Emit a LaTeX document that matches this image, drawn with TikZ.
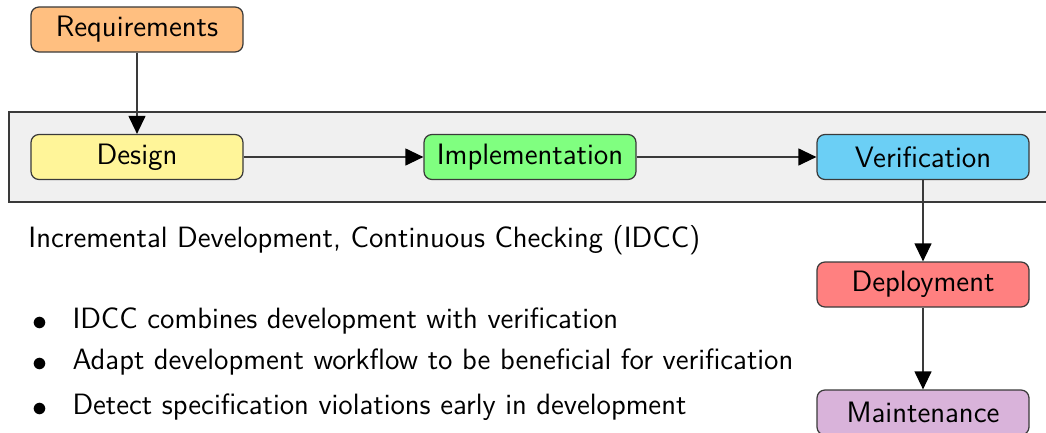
\documentclass[tikz,border=0pt]{standalone}
\usetikzlibrary{arrows.meta}
\renewcommand{\familydefault}{\sfdefault}
\definecolor{cReq}{HTML}{FFBF80}
\definecolor{cDes}{HTML}{FFF599}
\definecolor{cImp}{HTML}{80FF80}
\definecolor{cVer}{HTML}{6BCFF5}
\definecolor{cDep}{HTML}{FF8080}
\definecolor{cMai}{HTML}{D9B3DA}
\definecolor{cBg}{HTML}{F0F0F0}
\definecolor{cLine}{HTML}{3A3A3A}
\tikzset{
  phase/.style={draw=cLine, line width=0.5pt, rounded corners=3.2pt, minimum width=84.8pt, minimum height=18pt, inner sep=0pt, font=\fontsize{11.8}{14}\selectfont},
  flow/.style={draw=cLine, line width=0.5pt, -{Triangle[width=6.8pt,length=7.2pt,fill=black,color=black]}},
  txt/.style={anchor=west, inner sep=0pt, font=\fontsize{11.75}{14}\selectfont},
  bul/.style={inner sep=0pt, font=\fontsize{13}{14}\selectfont}
}
\begin{document}
\begin{tikzpicture}[x=0.4pt,y=-0.4pt]
\useasboundingbox (0,0) rectangle (1046,433);
\fill[cBg] (9,112) rectangle (1050,202);
\draw[cLine, line width=0.5pt] (1050,112) -- (9,112) -- (9,202) -- (1050,202);
\node[phase, fill=cReq] (req) at (137,29.5) {Requirements};
\node[phase, fill=cDes] (des) at (137,157) {Design};
\node[phase, fill=cImp] (imp) at (530,157) {Implementation};
\node[phase, fill=cVer] (ver) at (923,157) {Verification};
\node[phase, fill=cDep] (dep) at (923,284.5) {Deployment};
\node[phase, fill=cMai] (mai) at (923,412.5) {Maintenance};
\draw[flow] (req) -- (des);
\draw[flow] (des) -- (imp);
\draw[flow] (imp) -- (ver);
\draw[flow] (ver) -- (dep);
\draw[flow] (dep) -- (mai);
\node[txt] (title) at (28,240) {Incremental Development, Continuous Checking (IDCC)};
\node[bul] (d1) at (40,324) {$\bullet$};
\node[bul] (d2) at (40,365) {$\bullet$};
\node[bul] (d3) at (40,410) {$\bullet$};
\node[txt] (b1) at (72,321) {IDCC combines development with verification};
\node[txt] (b2) at (72,362) {Adapt development workflow to be beneficial for verification};
\node[txt] (b3) at (72,407) {Detect specification violations early in development};
\end{tikzpicture}
\end{document}
